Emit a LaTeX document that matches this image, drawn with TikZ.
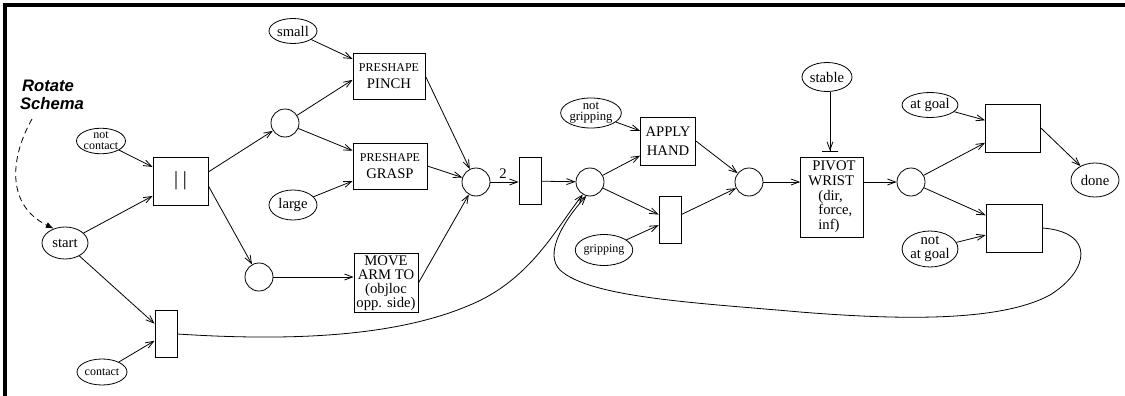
\documentclass[tikz,border=0pt]{standalone}
\usepackage{fontspec}
\setmainfont{Liberation Serif}
\setsansfont{Liberation Sans}
\usetikzlibrary{arrows.meta,shapes.geometric}

\begin{document}
\begin{tikzpicture}[x=0.75pt,y=-0.75pt,
  line width=0.6pt,
  every node/.style={inner sep=0pt},
  fnt/.style={font=\fontsize{#1}{#1}\selectfont},
  cond/.style={ellipse,draw,align=center,fnt=11},
  place/.style={circle,draw,minimum size=21pt},
  trans/.style={rectangle,draw,minimum width=16.5pt,minimum height=35.25pt},
  act/.style={rectangle,draw,align=center,fnt=11},
  arr/.style={-{Straight Barb[length=6pt,width=4.5pt]}},
  inhib/.style={-{Straight Barb[length=6pt,width=4.5pt]Bar[width=12pt]}}]

\useasboundingbox (0,0) rectangle (1125,396);

% frame
\draw[line width=3pt] (5.3,396) -- (5.3,4.8) -- (1125,4.8);

% title and its pointer
\node[font=\fontsize{12.5}{13.5}\selectfont\sffamily\bfseries\itshape,align=center]
  (title) at (52,95) {\hspace*{-6pt}Rotate\\Schema};
\coordinate (dstart) at (32,119);

% conditions
\node[cond,minimum width=34.5pt,minimum height=24pt] (start) at (65,243) {start};
\node[cond,minimum width=36.75pt,minimum height=18.75pt,font=\fontsize{9}{8.4}\selectfont] (notcontact) at (101,141) {not\\contact};
\node[cond,minimum width=37.5pt,minimum height=19.5pt,fnt=9] (contact) at (102,372) {contact};
\node[cond,minimum width=36pt,minimum height=18.75pt] (small) at (293,31) {small};
\node[cond,minimum width=36pt,minimum height=22.5pt] (large) at (293,205) {large};
\node[cond,minimum width=39pt,minimum height=22.5pt,font=\fontsize{9.5}{8.4}\selectfont] (notgrip) at (591,113) {not\\gripping};
\node[cond,minimum width=38.25pt,minimum height=23.25pt,fnt=9] (grip) at (604,250) {gripping};
\node[cond,minimum width=37.5pt,minimum height=21.75pt] (stable) at (827,77) {stable};
\node[cond,minimum width=36.75pt,minimum height=18.75pt] (atgoal) at (930,105) {at goal};
\node[cond,minimum width=36pt,minimum height=24pt,font=\fontsize{11}{10.5}\selectfont] (notatgoal) at (930,249) {not\\at goal};
\node[cond,minimum width=36pt,minimum height=25.5pt] (done) at (1095,180) {done};

% places
\node[place] (uc) at (285,123) {};
\node[place] (lc) at (259,277) {};
\node[place] (jc) at (476,182) {};
\node[place] (c2) at (590,182) {};
\node[place] (c3) at (749,182) {};
\node[place] (c4) at (911,182) {};

% transitions
\node[trans] (lr) at (166,334) {};
\node[trans] (nr) at (530,181) {};
\node[trans] (mr) at (670,220) {};

% actions
\node[act,minimum width=41.25pt,minimum height=36pt,fnt=15] (par) at (180.5,181) {|\hspace{3.5pt}|};
\node[act,minimum width=54pt,minimum height=34.5pt,font=\fontsize{11}{12.75}\selectfont] (pinch) at (389,76) {{\fontsize{9}{9}\selectfont PRESHAPE}\\PINCH};
\node[act,minimum width=55.5pt,minimum height=34.5pt,font=\fontsize{11}{12.75}\selectfont] (grasp) at (390,166) {{\fontsize{9}{9}\selectfont PRESHAPE}\\GRASP};
\node[act,minimum width=48pt,minimum height=44.25pt,font=\fontsize{11}{10.5}\selectfont] (move) at (386,283) {MOVE\\ARM TO\\(objloc\\opp. side)};
\node[act,minimum width=41.25pt,minimum height=36pt,font=\fontsize{11}{14}\selectfont] (apply) at (668,141) {APPLY\\HAND};
\node[act,minimum width=47.25pt,minimum height=60pt,align=left,font=\fontsize{11}{11}\selectfont] (pivot) at (832,197)
  {\hspace*{3pt}PIVOT\\WRIST\\\hspace*{7.5pt}(dir,\\\hspace*{7.5pt}force,\\\hspace*{7.5pt}inf)};
\node[act,minimum width=41.25pt,minimum height=36pt] (eb1) at (1013,128) {};
\node[act,minimum width=42pt,minimum height=36pt] (eb2) at (1014,228) {};

% connectors
\draw[dashed,dash pattern=on 4.5pt off 3pt,-{Latex[length=6pt,width=4.5pt]}]
  (dstart) .. controls (10,158) and (6,205) .. (start.128);

\draw[arr] (notcontact) -- (par);
\draw[arr] (start) -- (par);
\draw[arr] (start) -- (lr);
\draw[arr] (contact) -- (lr);
\draw[arr] (par.18) -- (uc);
\draw[arr] (par.-10) -- (lc);
\draw[arr] (small) -- (pinch);
\draw[arr] (uc) -- (pinch.186);
\draw[arr] (uc) -- (grasp);
\draw[arr] (large) -- (grasp);
\draw[arr] (lc) -- (lc -| move.west);
\draw[arr] (pinch.east) -- (jc);
\draw[arr] (grasp.east) -- (jc);
\draw[arr] (move.east) -- (jc);
\draw[arr] (jc) -- node[above=2pt,pos=0.45,fnt=11]{2} (jc -| nr.west);
\draw[arr] (nr) -- (c2);
\draw[arr] (lr.east) .. controls (300,342) and (400,335) .. (470,305)
                     .. controls (530,280) and (555,230) .. (c2.240);
\draw[arr] (eb2.east) .. controls (1095,232) and (1090,270) .. (1050,295)
                      .. controls (1000,322) and (900,320) .. (800,312)
                      .. controls (700,303) and (590,298) .. (560,270)
                      .. controls (545,255) and (560,225) .. (c2.255);
\draw[arr] (notgrip) -- (apply);
\draw[arr] (c2) -- (apply);
\draw[arr] (c2) -- (mr);
\draw[arr] (grip) -- (mr);
\draw[arr] (apply.east) -- (c3);
\draw[arr] (mr) -- (c3);
\draw[arr] (c3) -- (c3 -| pivot.west);
\draw[inhib,shorten >=3.75pt] (stable.south -| 830,0) -- (pivot.north -| 830,0);
\draw[arr] (c4 -| pivot.east) -- (c4);
\draw[arr] (c4) -- (eb1);
\draw[arr] (c4) -- (eb2);
\draw[arr] (atgoal) -- (eb1);
\draw[arr] (notatgoal) -- (eb2);
\draw[arr] (eb1.east) -- (done);
\end{tikzpicture}
\end{document}
